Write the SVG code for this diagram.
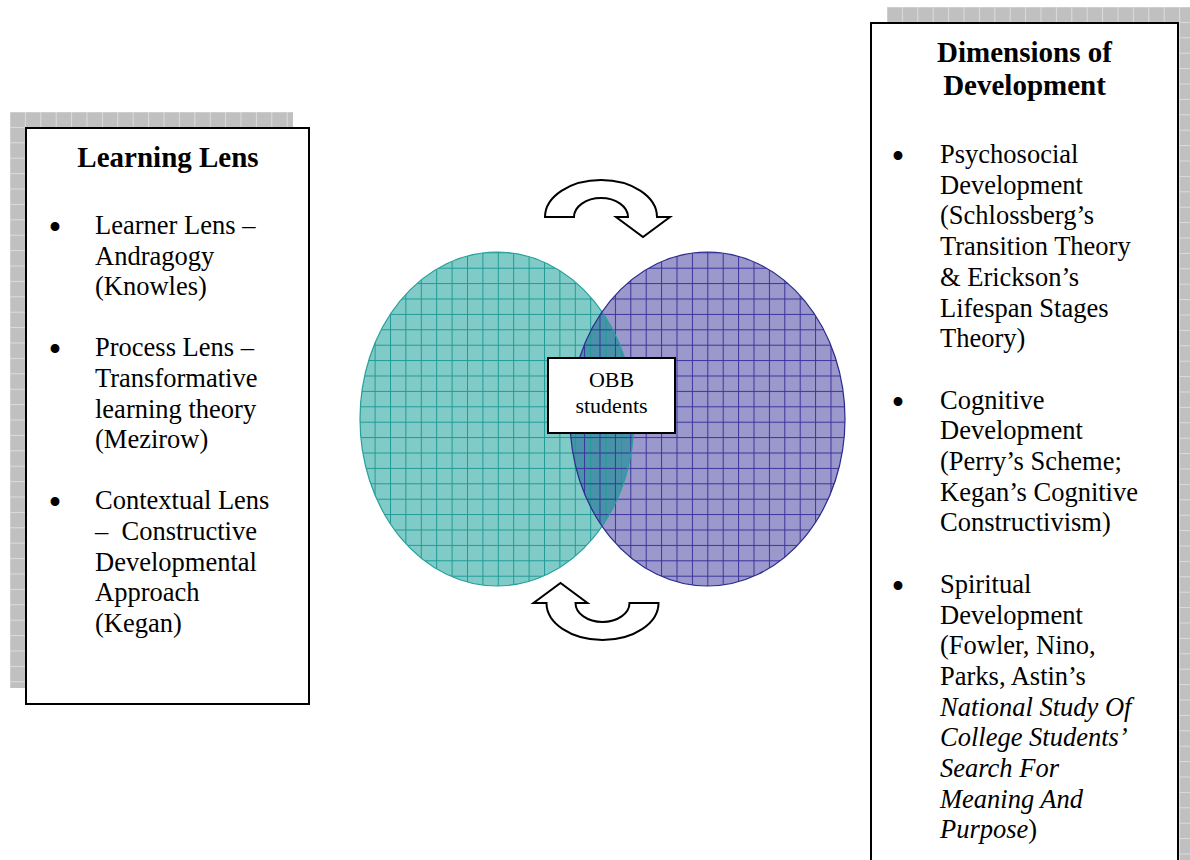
<svg xmlns="http://www.w3.org/2000/svg" width="1190" height="860" viewBox="0 0 1190 860">
<style>
.body{font-family:"Liberation Serif","Times New Roman",serif;font-size:26.5px;fill:#000}
.bul{font-family:"Liberation Serif","Times New Roman",serif;font-size:37px;fill:#000}
.title{font-family:"Liberation Serif","Times New Roman",serif;font-size:29px;font-weight:bold;fill:#000;text-anchor:middle}
.it{font-style:italic}
.box{fill:#fff;stroke:#000;stroke-width:2}
.arrow{fill:#fff;stroke:#000;stroke-width:2;stroke-linejoin:miter}
.obb{font-family:"Liberation Serif","Times New Roman",serif;font-size:22px;fill:#000;text-anchor:middle}
</style>
<defs>
<pattern id="shadowGrid" patternUnits="userSpaceOnUse" x="9.5" y="111.5" width="15.4" height="15.4">
<rect width="15.4" height="15.4" fill="#c0c0c0"/>
<rect width="15.4" height="1" fill="#dcdcdc"/>
<rect width="1" height="15.4" fill="#dcdcdc"/>
</pattern>
<pattern id="shadowGrid2" patternUnits="userSpaceOnUse" x="886.5" y="6.5" width="15.4" height="15.4">
<rect width="15.4" height="15.4" fill="#c0c0c0"/>
<rect width="15.4" height="1" fill="#dcdcdc"/>
<rect width="1" height="15.4" fill="#dcdcdc"/>
</pattern>
<pattern id="tealGrid" patternUnits="userSpaceOnUse" x="5" y="5.9" width="15.4" height="15.4">
<rect width="15.4" height="1" fill="#1f9a94"/>
<rect width="1" height="15.4" fill="#1f9a94"/>
</pattern>
<pattern id="purpleGrid" patternUnits="userSpaceOnUse" x="14.3" y="5.9" width="15.4" height="15.4">
<rect width="15.4" height="1" fill="#3a339c"/>
<rect width="1" height="15.4" fill="#3a339c"/>
</pattern>
<clipPath id="clipLeft"><ellipse cx="497" cy="419" rx="137" ry="167"/></clipPath>
</defs>

<g id="learning-lens">
<rect x="10" y="112" width="283" height="576" fill="url(#shadowGrid)"/>
<rect class="box" x="26" y="128" width="283" height="576"/>
<text class="title" x="168" y="167">Learning Lens</text>
<g class="bul">
<text x="48.5" y="240">•</text>
<text x="48.5" y="362.4">•</text>
<text x="48.5" y="515.4">•</text>
</g>
<g class="body">
<text x="95" y="234">Learner Lens –</text>
<text x="95" y="264.6">Andragogy</text>
<text x="95" y="295.2">(Knowles)</text>
<text x="95" y="356.4">Process Lens –</text>
<text x="95" y="387">Transformative</text>
<text x="95" y="417.6">learning theory</text>
<text x="95" y="448.2">(Mezirow)</text>
<text x="95" y="509.4">Contextual Lens</text>
<text x="95" y="540" xml:space="preserve">–  Constructive</text>
<text x="95" y="570.6">Developmental</text>
<text x="95" y="601.2">Approach</text>
<text x="95" y="631.8">(Kegan)</text>
</g>
</g>

<g id="dimensions">
<rect x="887" y="7" width="320" height="870" fill="url(#shadowGrid2)"/>
<rect class="box" x="871" y="23" width="307" height="860"/>
<text class="title" x="1024.5" y="61.5">Dimensions of</text>
<text class="title" x="1024.5" y="95">Development</text>
<g class="bul">
<text x="891.5" y="169">•</text>
<text x="891.5" y="414.6">•</text>
<text x="891.5" y="598.8">•</text>
</g>
<g class="body">
<text x="940" y="163">Psychosocial</text>
<text x="940" y="193.7">Development</text>
<text x="940" y="224.4">(Schlossberg’s</text>
<text x="940" y="255.1">Transition Theory</text>
<text x="940" y="285.8">&amp; Erickson’s</text>
<text x="940" y="316.5">Lifespan Stages</text>
<text x="940" y="347.2">Theory)</text>
<text x="940" y="408.6">Cognitive</text>
<text x="940" y="439.3">Development</text>
<text x="940" y="470">(Perry’s Scheme;</text>
<text x="940" y="500.7">Kegan’s Cognitive</text>
<text x="940" y="531.4">Constructivism)</text>
<text x="940" y="592.8">Spiritual</text>
<text x="940" y="623.5">Development</text>
<text x="940" y="654.2">(Fowler, Nino,</text>
<text x="940" y="684.9">Parks, Astin’s</text>
<text x="940" y="715.6" class="it">National Study Of</text>
<text x="940" y="746.3" class="it">College Students’</text>
<text x="940" y="777" class="it">Search For</text>
<text x="940" y="807.7" class="it">Meaning And</text>
<text x="940" y="838.4"><tspan class="it">Purpose</tspan>)</text>
</g>
</g>

<g id="venn">
<ellipse cx="497" cy="419" rx="137" ry="167" fill="#80cbc8"/>
<ellipse cx="707.5" cy="419" rx="137.5" ry="167" fill="#9b98cc"/>
<ellipse cx="707.5" cy="419" rx="137.5" ry="167" fill="#4893a9" clip-path="url(#clipLeft)"/>
<ellipse cx="497" cy="419" rx="137" ry="167" fill="url(#tealGrid)"/>
<ellipse cx="707.5" cy="419" rx="137.5" ry="167" fill="url(#purpleGrid)"/>
<ellipse cx="497" cy="419" rx="137" ry="167" fill="none" stroke="#25a19b" stroke-width="1.2"/>
<ellipse cx="707.5" cy="419" rx="137.5" ry="167" fill="none" stroke="#2a2a8c" stroke-width="1.2"/>
</g>

<g id="obb-students">
<rect class="box" x="548" y="358" width="127" height="75"/>
<text class="obb" x="611.5" y="387">OBB</text>
<text class="obb" x="611.5" y="413">students</text>
</g>

<g id="connectors">
<path class="arrow" d="M545 217 A56 37 0 0 1 657 217 L670 217 L643 237 L616 217 L628 217 A27 19 0 0 0 574 217 Z"/>
<path class="arrow" d="M545 217 A56 37 0 0 1 657 217 L670 217 L643 237 L616 217 L628 217 A27 19 0 0 0 574 217 Z" transform="rotate(180 601.75 410)"/>
</g>
</svg>
